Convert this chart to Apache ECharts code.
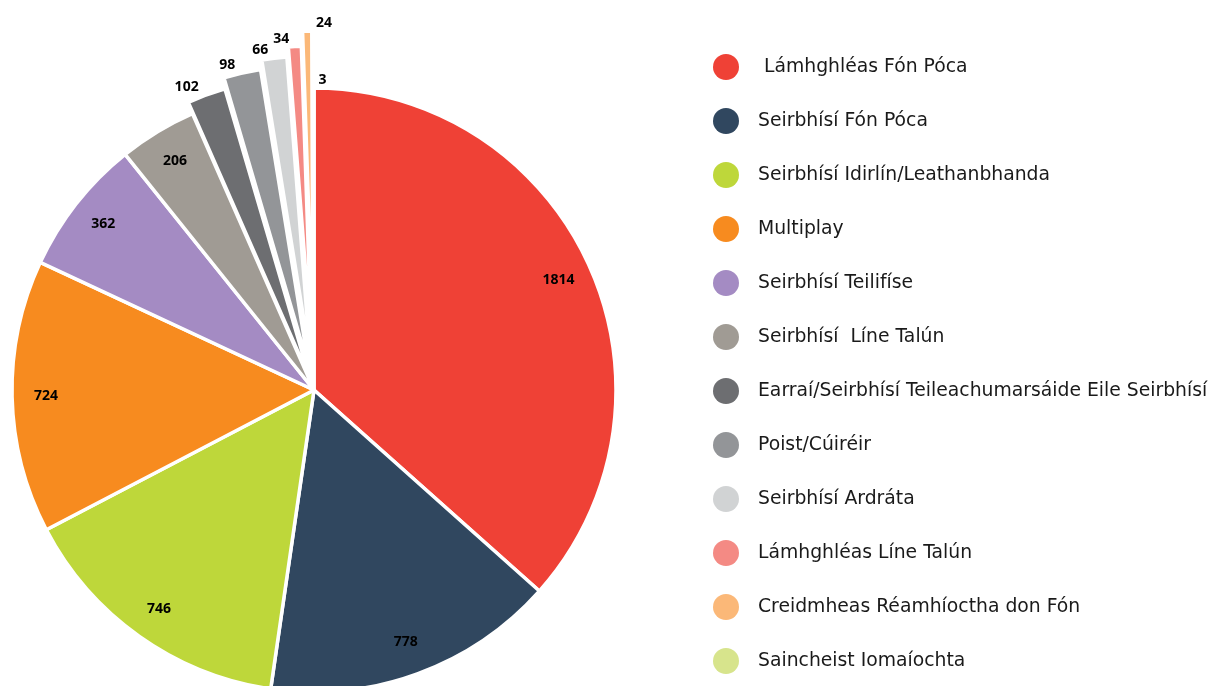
<!DOCTYPE html>
<html>
<head>
<meta charset="utf-8">
<script src="https://cdn.jsdelivr.net/npm/echarts@6/dist/echarts.min.js"></script>
<style>
  html, body { margin: 0; padding: 0; background: #fff; }
  #chart { width: 1211px; height: 686px; }
</style>
</head>
<body>
<div id="chart"></div>
<script>
// data
const categories = [
  ' Lámhghléas Fón Póca',
  'Seirbhísí Fón Póca',
  'Seirbhísí Idirlín/Leathanbhanda',
  'Multiplay',
  'Seirbhísí Teilifíse',
  'Seirbhísí  Líne Talún',
  'Earraí/Seirbhísí Teileachumarsáide Eile Seirbhísí',
  'Poist/Cúiréir',
  'Seirbhísí Ardráta',
  'Lámhghléas Líne Talún',
  'Creidmheas Réamhíoctha don Fón',
  'Saincheist Iomaíochta'
];
const values = [1814, 778, 746, 724, 362, 206, 102, 98, 66, 34, 24, 3];
const colors = ['#EF4136', '#30475F', '#BED73A', '#F78B1F', '#A48BC3', '#A09B94',
                '#6D6E71', '#939598', '#D1D3D4', '#F48A84', '#FBB878', '#D7E48C'];

// slices pulled out of the pie (index -> offset in px)
const explodeIndex = [6, 7, 8, 9, 10];
const explodeOffset = [12, 23, 32, 42, 57];

const center = [314, 390];
const R = 302;

const labelFont = { formatter: '{c}', color: '#000', fontFamily: 'Open Sans', fontWeight: 'bold', fontSize: 14 };
const hidden = { color: 'transparent', borderWidth: 0 };
const border = { borderColor: '#fff', borderWidth: 3.5 };

const chart = echarts.init(document.getElementById('chart'));

// main pie: everything that is not pulled out
const mainData = values.map((v, i) => {
  const out = explodeIndex.indexOf(i) >= 0;
  return {
    name: categories[i],
    value: v,
    itemStyle: out ? hidden : { color: colors[i] },
    label: { show: i === 11 }
  };
});

// ring only used to put the value labels near the rim
const labelData = values.map((v, i) => ({
  name: categories[i],
  value: v,
  label: { show: i <= 5 }
}));

const series = [
  {
    name: 'main',
    type: 'pie',
    center: center,
    radius: [0, R],
    startAngle: 90,
    avoidLabelOverlap: false,
    minShowLabelAngle: 0,
    silent: true,
    itemStyle: border,
    label: Object.assign({ position: 'outside' }, labelFont),
    labelLine: { show: false, length: 8, length2: 0 },
    labelLayout: { hideOverlap: false, align: 'left', dx: 10 },
    data: mainData
  },
  {
    name: 'labels',
    type: 'pie',
    center: center,
    radius: [R - 74, R],
    startAngle: 90,
    avoidLabelOverlap: false,
    silent: true,
    itemStyle: hidden,
    label: Object.assign({ position: 'inside' }, labelFont),
    labelLine: { show: false },
    labelLayout: { hideOverlap: false },
    data: labelData
  }
];

explodeIndex.forEach((idx, k) => {
  const last = k === explodeIndex.length - 1;
  series.push({
    name: 'out' + k,
    type: 'pie',
    center: center,
    radius: [0, R],
    startAngle: 90,
    avoidLabelOverlap: false,
    minShowLabelAngle: 0,
    selectedMode: 'single',
    selectedOffset: explodeOffset[k],
    silent: true,
    label: Object.assign({ position: 'outside' }, labelFont),
    labelLine: { show: false, length: 8, length2: 0 },
    labelLayout: last ? { hideOverlap: false, align: 'left', dx: 14 } : { hideOverlap: false },
    data: values.map((v, i) => ({
      name: categories[i],
      value: v,
      selected: i === idx,
      itemStyle: i === idx ? Object.assign({ color: colors[i] }, border) : hidden,
      label: { show: i === idx }
    }))
  });
});

const option = {
  animation: false,
  legend: {
    orient: 'vertical',
    left: 708,
    top: 49,
    itemWidth: 54,
    itemHeight: 26,
    itemGap: 28,
    icon: 'circle',
    selectedMode: false,
    itemStyle: { borderWidth: 0 },
    textStyle: { fontFamily: 'DejaVu Sans', fontSize: 18.8, color: '#1a1a1a' },
    data: categories.map((c, i) => ({ name: c, itemStyle: { color: colors[i], borderWidth: 0 } }))
  },
  series: series
};

chart.setOption(option);
</script>
</body>
</html>
